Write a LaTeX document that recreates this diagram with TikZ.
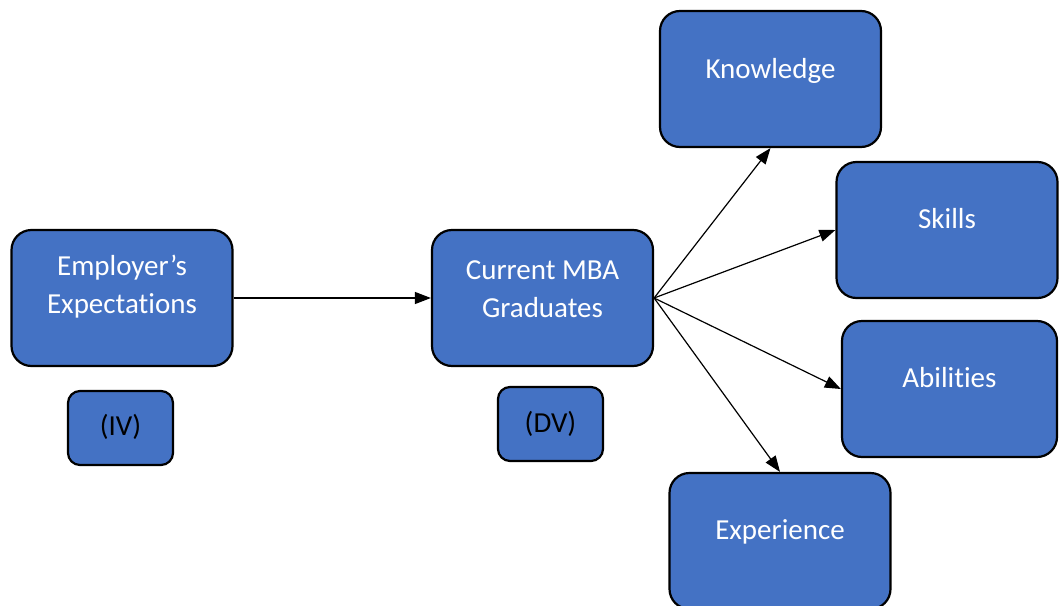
\documentclass[tikz,border=0pt]{standalone}
\usepackage{fontspec}
\setmainfont{Carlito}[Ligatures=NoCommon]
\usetikzlibrary{arrows.meta}
\definecolor{boxblue}{HTML}{4472C4}
\newcommand{\nolig}{\kern0pt }
\begin{document}
\begin{tikzpicture}[x=1pt,y=-1pt,
  bigbox/.style={draw=black, line width=2.2pt, fill=boxblue, rounded corners=20pt,
    minimum width=#1, minimum height=136pt, inner sep=0pt},
  bigbox/.default=221pt,
  smallbox/.style={draw=black, line width=2.2pt, fill=boxblue, rounded corners=12pt,
    minimum width=105pt, minimum height=74pt, inner sep=0pt},
  wtxt/.style={text=white, font=\fontsize{29}{38}\selectfont, inner sep=0pt, align=center},
  btxt/.style={text=black, font=\fontsize{29}{38}\selectfont, inner sep=0pt},
  conn/.style={line width=1.2pt, -{Triangle[length=16pt,width=12pt]}}
]
\useasboundingbox (0,0) rectangle (1060,605);
\clip (0,0) rectangle (1060,605);

\node[bigbox] (emp) at (122,298) {};
\node[smallbox] (iv) at (120.5,428) {};
\node[bigbox] (cur) at (542.5,298) {};
\node[smallbox] (dv) at (550.5,424) {};
\node[bigbox] (know) at (770.5,79) {};
\node[bigbox] (skills) at (947,230) {};
\node[bigbox=215pt] (abil) at (949.5,389) {};
\node[bigbox] (exp) at (780,541) {};

\node[wtxt, anchor=center] (empT) at ([yshift=11pt]emp.center) {Employer’s\\Expectat\nolig ions};
\node[wtxt, anchor=center] (curT) at ([yshift=9pt]cur.center) {Current MBA\\Graduates};
\node[wtxt, anchor=base] (knowT) at ([yshift=1pt]know.center) {Knowledge};
\node[wtxt, anchor=base] (skillsT) at ([yshift=2pt]skills.center) {Skills};
\node[wtxt, anchor=base] (abilT) at ([yshift=2pt]abil.center) {Abilit\nolig ies};
\node[wtxt, anchor=base] (expT) at ([yshift=2pt]exp.center) {Experience};
\node[btxt, anchor=base] (ivT) at ([yshift=-7pt]iv.center) {(IV)};
\node[btxt, anchor=base] (dvT) at ([yshift=-8pt]dv.center) {(DV)};

\draw[conn] (emp.east) -- (cur.west);
\draw[conn] (cur.east) -- (know.south);
\draw[conn] (cur.east) -- (skills.west);
\draw[conn] (cur.east) -- (abil.west);
\draw[conn] (cur.east) -- (exp.north);
\end{tikzpicture}
\end{document}
